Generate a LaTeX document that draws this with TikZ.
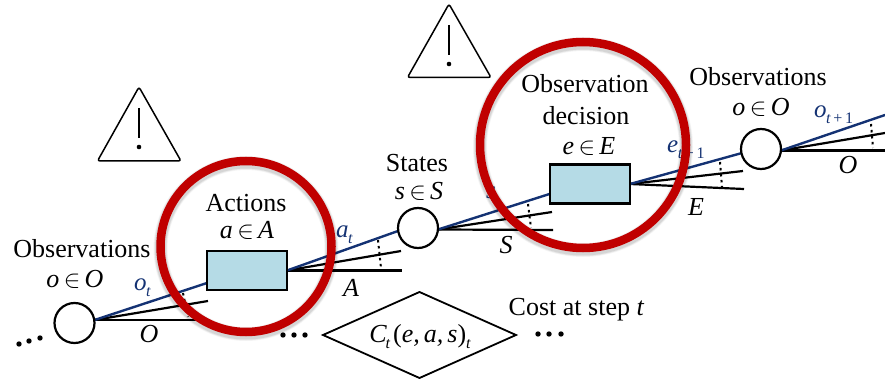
\documentclass[tikz,border=0pt]{standalone}
\usepackage{fontspec}
\setmainfont{Liberation Serif}
\usetikzlibrary{shapes.geometric}
\definecolor{navyl}{RGB}{20,50,115}
\definecolor{boxfill}{RGB}{181,219,230}
\definecolor{ringred}{RGB}{192,0,0}
\tikzset{
  txt/.style={inner sep=0pt,anchor=base,font=\fontsize{26}{26}\selectfont,text=black},
  mth/.style={inner sep=0pt,anchor=base,font=\fontsize{26}{26}\selectfont\itshape,text=black},
  sym/.style={inner sep=0pt,anchor=base west,font=\fontsize{25}{25}\selectfont\itshape,text=navyl},
  chance/.style={circle,draw=black,line width=2.2pt,fill=white,minimum size=40pt,inner sep=0pt},
  dec/.style={rectangle,draw=black,line width=2.2pt,fill=boxfill,minimum width=80pt,minimum height=39pt,inner sep=0pt},
  blueln/.style={draw=navyl,line width=2.4pt},
  blackln/.style={draw=black,line width=2.2pt},
  dots/.style={draw=black,line width=2pt,dash pattern=on 2.5pt off 3.5pt},
  ring/.style={draw=ringred,line width=8.5pt},
  warn/.style={draw=black,line width=1.5pt,fill=white,rounded corners=2.5pt},
  costd/.style={draw=black,line width=1.8pt,fill=white},
}
\newcommand{\sbs}[1]{\raisebox{-6pt}{\fontsize{16}{16}\selectfont #1}}
\newcommand{\elem}{\,\ensuremath{\in}\,}
\begin{document}
\begin{tikzpicture}[x=1pt,y=-1pt]
\useasboundingbox (0,0) rectangle (885,379);
% warning triangles
\coordinate (wa) at (139,87); \coordinate (wb) at (181,161); \coordinate (wc) at (97.5,161);
\draw[warn] (wa) -- (wb) -- (wc) -- cycle;
\coordinate (wd) at (139,108); \coordinate (we) at (139,138);
\draw[line width=1.6pt] (wd) -- (we);
\fill (139,147) circle (2.3);
\coordinate (wf) at (449,4); \coordinate (wg) at (491,77.5); \coordinate (wh) at (407.5,77.5);
\draw[warn] (wf) -- (wg) -- (wh) -- cycle;
\coordinate (wi) at (449,25); \coordinate (wj) at (449,55);
\draw[line width=1.6pt] (wi) -- (wj);
\fill (449,64) circle (2.3);
% branch end points
\coordinate (o1s) at (94.5,320);
\coordinate (ss) at (438,229.5);
\coordinate (o2s) at (781,150.5);
\coordinate (o1blue) at (207,283);
\coordinate (o1mid) at (208,301);
\coordinate (o1low) at (208,320);
\coordinate (ablue) at (398,231);
\coordinate (amid) at (401,251);
\coordinate (alow) at (402,270.5);
\coordinate (sblue) at (549.5,194);
\coordinate (smid) at (552,212);
\coordinate (slow) at (553,230);
\coordinate (eblue) at (742,153);
\coordinate (emid) at (743,171);
\coordinate (elow) at (744,189);
\coordinate (o2blue) at (885,115);
\coordinate (o2mid) at (885,133);
\coordinate (o2low) at (885,150.5);
\coordinate (aE) at (287,270.5);
\coordinate (eE) at (630,184);
% branches
\draw[blackln] (o1s) -- (o1low);
\draw[blackln] (o1s) -- (o1mid);
\draw[blueln] (o1s) -- (o1blue);
\draw[blackln] (aE) -- (alow);
\draw[blackln] (aE) -- (amid);
\draw[blueln] (aE) -- (ablue);
\draw[blackln] (ss) -- (slow);
\draw[blackln] (ss) -- (smid);
\draw[blueln] (ss) -- (sblue);
\draw[blackln] (eE) -- (elow);
\draw[blackln] (eE) -- (emid);
\draw[blueln] (eE) -- (eblue);
\draw[blackln] (o2s) -- (o2low);
\draw[blackln] (o2s) -- (o2mid);
\draw[blueln] (o2s) -- (o2blue);
% nodes
\node[chance] (o1) at (74.5,323) {};
\node[chance] (s) at (418,228) {};
\node[chance] (o2) at (761,149) {};
\node[dec] (a) at (247,270.5) {};
\node[dec] (e) at (590,184) {};
% dotted ticks
\coordinate (d1a) at (183,293); \coordinate (d1b) at (188,317);
\draw[dots] (d1a) -- (d1b);
\coordinate (d2a) at (378,240); \coordinate (d2b) at (381,268);
\draw[dots] (d2a) -- (d2b);
\coordinate (d3a) at (528,204); \coordinate (d3b) at (531,228);
\draw[dots] (d3a) -- (d3b);
\coordinate (d4a) at (720,162); \coordinate (d4b) at (722,187);
\draw[dots] (d4a) -- (d4b);
\coordinate (d5a) at (871,124); \coordinate (d5b) at (873,148);
\draw[dots] (d5a) -- (d5b);
% branch labels
\node[sym] (lot) at (134,290) {o\kern-0.5pt\sbs{t}};
\node[sym] (lat) at (336,237) {a\kern-0.5pt\sbs{t}};
\node[sym] (lst) at (486,199) {s};
\node[sym] (let) at (667,153) {e\kern-0.5pt\sbs{t\,\upshape+\,1}};
\node[sym] (lo2) at (814,118) {o\kern-0.5pt\sbs{t\,\upshape+\,1}};
\node[mth] (lO) at (149,342) {O};
\node[mth] (lA) at (351,296) {A};
\node[mth] (lS) at (506,253) {S};
\node[mth] (lE) at (696,215) {E};
\node[mth] (lO2) at (848,174) {O};
% red rings with soft shadow
\foreach \w/\o in {14/0.04,12.5/0.06,11/0.08}{
  \draw[black,opacity=\o,line width=\w pt] (246,248.5) circle (85.5);
  \draw[black,opacity=\o,line width=\w pt] (583,147) circle (103);
}
\draw[ring] (246,246.5) circle (85.5);
\draw[ring] (583,145) circle (103);
% texts
\node[txt] (t1) at (82,257) {Observations};
\node[mth] (t1b) at (75,287) {o\elem O};
\node[txt] (t2) at (246,212) {Actions};
\node[mth] (t2b) at (247,239) {a\elem A};
\node[txt] (t3) at (417,172) {States};
\node[mth] (t3b) at (419,200) {s\elem S};
\node[txt] (t4) at (585,93) {Observation};
\node[txt] (t4b) at (586,125) {decision};
\node[mth] (t4c) at (589,155) {e\elem E};
\node[txt] (t5) at (758,86) {Observations};
\node[mth] (t5b) at (761,116) {o\elem O};
% diamond
\coordinate (cw) at (323,335); \coordinate (cn) at (419.5,292);
\coordinate (ce) at (516,335); \coordinate (cs) at (419.5,378);
\draw[costd] (cw) -- (cn) -- (ce) -- (cs) -- cycle;
\node[mth] (cl) at (420,342) {C\kern-1pt\sbs{t}\kern3pt{\upshape(}e,\kern4pt a,\kern4pt s{\upshape)}\sbs{t}};
\node[txt] (cost) at (576.5,315) {Cost at step \textit{t}};
% ellipses
\foreach \p in {(19,344),(29,341),(40,338),(283,335),(294,335),(305,335),(538,334),(549,334),(561,334)}
  \fill \p circle (2.7);
\end{tikzpicture}
\end{document}
